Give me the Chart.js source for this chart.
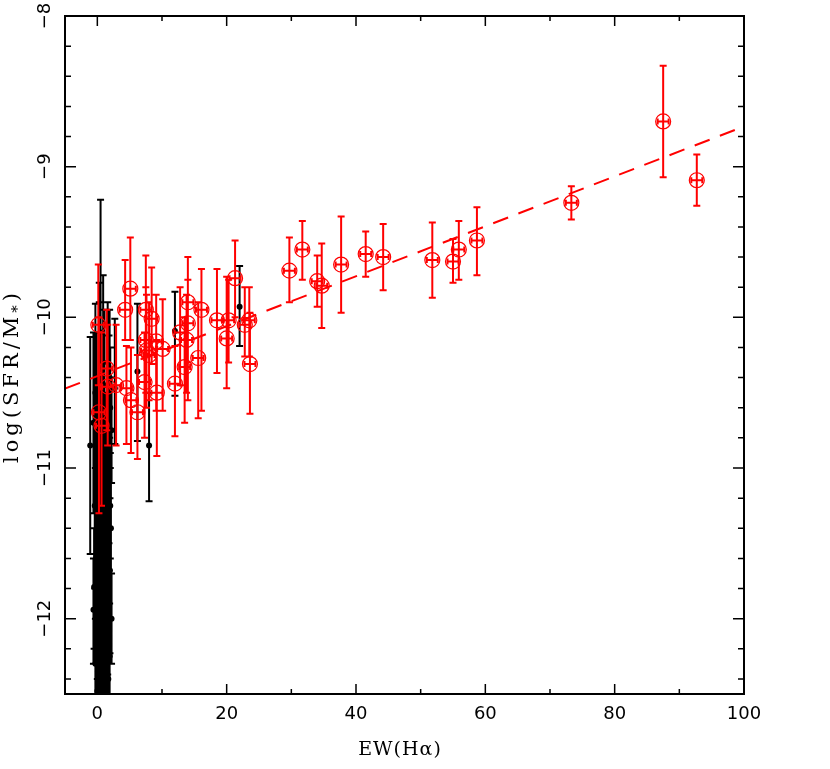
<!DOCTYPE html>
<html>
<head>
<meta charset="utf-8">
<style>
  html, body { margin: 0; padding: 0; background: #fff; }
  canvas { display: block; }
</style>
<script src="https://cdn.jsdelivr.net/npm/chart.js@4.4.1/dist/chart.umd.min.js"></script>
</head>
<body>
<canvas id="chart" width="830" height="769"></canvas>
<script>
// red circles: x, y and the ends of the y error bar
const redX = [0.15, 0.25, 0.65, 1.45, 1.6, 2.9, 4.3, 4.5, 5.1, 5.2,
              6.2, 7.3, 7.5, 7.5, 7.6, 8.0, 8.4, 9.1, 9.2, 10.1,
              12.0, 12.8, 13.5, 13.8, 14.0, 14.0, 15.6, 16.1, 18.5, 20.0,
              20.3, 21.3, 22.8, 23.5, 23.6, 29.7, 31.7, 34.0, 34.7, 37.7,
              41.5, 44.2, 51.8, 55.0, 55.9, 58.7, 73.3, 87.5, 92.7];
const redY = [-10.05, -10.63, -10.72, -10.34, -10.46, -10.45, -9.95, -10.47, -9.81, -10.55,
              -10.63, -10.43, -9.95, -10.15, -10.22, -10.25, -10.01, -10.16, -10.50, -10.21,
              -10.44, -10.10, -10.33, -10.15, -9.90, -10.04, -10.27, -9.95, -10.02, -10.14,
              -10.02, -9.74, -10.05, -10.02, -10.31, -9.69, -9.55, -9.76, -9.79, -9.65,
              -9.58, -9.60, -9.62, -9.63, -9.55, -9.49, -9.24, -8.70, -9.09];
const redLo = [-10.45, -11.30, -11.25, -10.75, -10.85, -10.85, -10.15, -10.84, -10.15, -10.90,
               -10.94, -10.80, -10.24, -10.50, -10.60, -10.55, -10.31, -10.62, -10.92, -10.62,
               -10.79, -10.45, -10.70, -10.50, -10.30, -10.55, -10.67, -10.62, -10.37, -10.47,
               -10.30, -10.00, -10.26, -10.26, -10.64, -9.90, -9.75, -9.93, -10.07, -9.97,
               -9.73, -9.82, -9.87, -9.77, -9.75, -9.72, -9.35, -9.07, -9.26];
const redHi = [-9.65, -10.00, -10.10, -9.95, -10.05, -10.05, -9.62, -10.19, -9.47, -10.20,
               -10.25, -10.10, -9.59, -9.80, -9.85, -9.90, -9.67, -9.85, -10.15, -9.88,
               -10.19, -9.80, -10.00, -9.85, -9.60, -9.75, -9.90, -9.68, -9.68, -9.73,
               -9.75, -9.49, -9.80, -9.80, -9.97, -9.47, -9.36, -9.59, -9.51, -9.33,
               -9.43, -9.38, -9.37, -9.48, -9.36, -9.27, -9.13, -8.33, -8.92];
const redXErr = 0.85;

// black dots
const blackX = [-1.1, 0.5, 0.9, 0.3, -0.3, 1.8, 1.9, 2.7, 6.2, 8.0,
                12.0, 22.0, 0.1, 0.4, 0.7, 1.0, 1.3, -0.4, 0.2, 0.6,
                0.9, 1.5, 2.1, -0.2, 0.3, 0.8, 1.2, 1.95, -0.5, 0.0,
                0.5, -0.6, 1.0, 1.6, 0.2, 0.7, -0.1, 0.4, 1.3, -0.3,
                0.1, 0.6, 0.9, 0.0, 0.3, 1.1, -0.1, 1.6, 0.8, -0.6,
                2.2, 1.4, 1.7, 2.0, 1.2, 1.8, 2.2, 1.4, 1.7, 1.1,
                0.5, 0.0, -0.2, 0.2, 1.5, 1.9, 2.0];
const blackY = [-10.85, -10.10, -10.60, -10.70, -10.50, -10.55, -10.40, -10.47, -10.36, -10.85,
                -10.09, -9.93, -10.95, -11.05, -11.10, -11.20, -11.00, -11.25, -11.35, -11.45,
                -11.50, -11.30, -11.40, -11.60, -11.65, -11.70, -11.75, -11.68, -11.79, -11.85,
                -11.90, -11.94, -12.00, -11.95, -12.05, -12.10, -12.15, -12.20, -12.20, -12.30,
                -12.35, -12.40, -12.45, -12.48, -10.40, -10.45, -10.60, -10.30, -10.85, -10.70,
                -10.75, -10.90, -11.10, -11.25, -11.55, -11.85, -12.00, -12.30, -12.40, -12.45,
                -11.20, -11.05, -10.90, -12.25, -12.10, -12.25, -10.60];
const blackLo = [-11.57, -10.95, -11.20, -11.30, -11.00, -10.95, -10.80, -10.84, -10.82, -11.22,
                 -10.52, -10.19, -11.50, -11.60, -11.70, -11.60, -11.40, -11.80, -11.90, -12.00,
                 -11.90, -11.80, -11.70, -12.10, -12.20, -12.10, -12.30, -12.23, -12.20, -12.40,
                 -12.30, -12.30, -12.40, -12.37, -12.60, -12.60, -12.60, -12.60, -12.60, -12.60,
                 -12.60, -12.60, -12.60, -12.60, -10.90, -11.00, -11.10, -10.80, -11.40, -11.30,
                 -11.10, -11.30, -11.50, -11.60, -11.95, -12.20, -12.30, -12.60, -12.60, -12.60,
                 -11.60, -11.50, -11.40, -12.60, -12.50, -12.60, -11.00];
const blackHi = [-10.13, -9.22, -9.72, -9.77, -9.91, -10.12, -9.95, -10.01, -9.91, -10.50,
                 -9.83, -9.66, -10.40, -10.50, -10.50, -10.80, -10.60, -10.70, -10.80, -10.90,
                 -11.10, -10.80, -11.10, -11.10, -11.10, -11.30, -11.20, -11.20, -11.40, -11.30,
                 -11.50, -11.60, -11.60, -11.50, -11.60, -11.70, -11.80, -11.80, -11.90, -12.00,
                 -12.00, -12.10, -12.20, -12.30, -9.90, -9.95, -10.10, -9.90, -10.30, -10.10,
                 -10.40, -10.50, -10.70, -10.90, -11.15, -11.50, -11.70, -11.95, -12.10, -12.15,
                 -10.80, -10.60, -10.40, -11.90, -11.70, -11.90, -10.20];

// dashed fit line, end points at the axis limits
const fitX = [-5, 100];
const fitY = [-10.473, -8.733];

// axis ticks
const xMajor = [0, 20, 40, 60, 80, 100];
const xMinor = [10, 30, 50, 70, 90];
const yMajor = [-8, -9, -10, -11, -12];
const yMinor = [-8.2, -8.4, -8.6, -8.8, -9.2, -9.4, -9.6, -9.8, -10.2, -10.4, -10.6, -10.8,
                -11.2, -11.4, -11.6, -11.8, -12.2, -12.4];

const RED = '#ff0000';

const redPts = redX.map((x, i) => ({x: x, y: redY[i], lo: redLo[i], hi: redHi[i], xe: redXErr}));
const blackPts = blackX.map((x, i) => ({x: x, y: blackY[i], lo: blackLo[i], hi: blackHi[i]}));
const fitPts = fitX.map((x, i) => ({x: x, y: fitY[i]}));

// error bars, drawn just before the points of their own dataset
const errorBars = {
  id: 'errorBars',
  beforeDatasetDraw(chart, args) {
    const ds = chart.data.datasets[args.index];
    if (!ds.errColor) return;
    const {ctx, chartArea: a, scales: {x, y}} = chart;
    const cap = 3.5;
    ctx.save();
    ctx.beginPath();
    ctx.rect(a.left, a.top, a.right - a.left, a.bottom - a.top);
    ctx.clip();
    ctx.strokeStyle = ds.errColor;
    ctx.lineWidth = ds.errWidth;
    ctx.beginPath();
    ds.data.forEach(p => {
      const px = x.getPixelForValue(p.x);
      const py = y.getPixelForValue(p.y);
      const top = y.getPixelForValue(p.hi);
      const bot = y.getPixelForValue(p.lo);
      ctx.moveTo(px, top); ctx.lineTo(px, bot);
      ctx.moveTo(px - cap, top); ctx.lineTo(px + cap, top);
      ctx.moveTo(px - cap, bot); ctx.lineTo(px + cap, bot);
      if (p.xe) {
        const l = x.getPixelForValue(p.x - p.xe);
        const r = x.getPixelForValue(p.x + p.xe);
        ctx.moveTo(l, py); ctx.lineTo(r, py);
        ctx.moveTo(l, py - 3); ctx.lineTo(l, py + 3);
        ctx.moveTo(r, py - 3); ctx.lineTo(r, py + 3);
      }
    });
    ctx.stroke();
    ctx.restore();
  }
};

// box frame with inward ticks on all four sides, labels and titles
const frame = {
  id: 'frame',
  afterDraw(chart) {
    const {ctx, chartArea: a, scales: {x, y}} = chart;
    ctx.save();
    ctx.strokeStyle = '#000';
    ctx.lineWidth = 2;
    ctx.strokeRect(a.left, a.top, a.right - a.left, a.bottom - a.top);

    ctx.lineWidth = 1.5;
    ctx.beginPath();
    const xt = (v, len) => {
      const px = x.getPixelForValue(v);
      ctx.moveTo(px, a.bottom); ctx.lineTo(px, a.bottom - len);
      ctx.moveTo(px, a.top); ctx.lineTo(px, a.top + len);
    };
    const yt = (v, len) => {
      const py = y.getPixelForValue(v);
      ctx.moveTo(a.left, py); ctx.lineTo(a.left + len, py);
      ctx.moveTo(a.right, py); ctx.lineTo(a.right - len, py);
    };
    xMajor.forEach(v => xt(v, 10));
    xMinor.forEach(v => xt(v, 5));
    yMajor.forEach(v => yt(v, 11));
    yMinor.forEach(v => yt(v, 6));
    ctx.stroke();

    ctx.fillStyle = '#000';
    ctx.font = '18px "DejaVu Sans"';
    ctx.textAlign = 'center';
    ctx.textBaseline = 'middle';
    xMajor.forEach(v => ctx.fillText(String(v), x.getPixelForValue(v), 714));
    yMajor.forEach(v => {
      ctx.save();
      ctx.translate(45, y.getPixelForValue(v));
      ctx.rotate(-Math.PI / 2);
      ctx.fillText(String(v).replace('-', '\u2212'), 0, 0);
      ctx.restore();
    });

    // x title
    ctx.font = '19px "DejaVu Serif"';
    ctx.letterSpacing = '1px';
    ctx.fillText('EW(H\u03b1)', 400, 750);

    // y title with subscript star
    ctx.save();
    ctx.translate(13, 376);
    ctx.rotate(-Math.PI / 2);
    ctx.textAlign = 'left';
    ctx.letterSpacing = '4px';
    const main = 'log(SFR/M';
    const sub = '*';
    const tail = ')';
    ctx.font = '15px "DejaVu Serif"';
    const wSub = ctx.measureText(sub).width;
    ctx.font = '21px "DejaVu Serif"';
    const wMain = ctx.measureText(main).width;
    const wTail = ctx.measureText(tail).width;
    let cx = -(wMain + wSub + wTail) / 2;
    ctx.fillText(main, cx, 0);
    cx += wMain;
    ctx.font = '15px "DejaVu Serif"';
    ctx.fillText(sub, cx, 5);
    cx += wSub;
    ctx.font = '21px "DejaVu Serif"';
    ctx.fillText(tail, cx, 0);
    ctx.restore();

    ctx.restore();
  }
};

new Chart(document.getElementById('chart'), {
  type: 'scatter',
  data: {
    datasets: [
      {
        type: 'line',
        data: fitPts,
        borderColor: RED,
        borderWidth: 2,
        borderDash: [16, 11],
        pointRadius: 0,
        fill: false,
        clip: 0
      },
      {
        data: redPts,
        pointStyle: 'circle',
        pointRadius: 7.5,
        pointBorderWidth: 1.2,
        pointBackgroundColor: 'rgba(0,0,0,0)',
        pointBorderColor: RED,
        errColor: RED,
        errWidth: 2,
        clip: 0
      },
      {
        data: blackPts,
        pointStyle: 'circle',
        pointRadius: 3,
        pointBorderWidth: 0,
        pointBackgroundColor: '#000',
        pointBorderColor: '#000',
        errColor: '#000',
        errWidth: 2,
        clip: 0
      }
    ]
  },
  options: {
    responsive: false,
    animation: false,
    devicePixelRatio: 1,
    layout: {padding: {left: 65, right: 86, top: 16, bottom: 75}},
    scales: {
      x: {type: 'linear', min: -5, max: 100, display: false},
      y: {type: 'linear', min: -12.5, max: -8, display: false}
    },
    plugins: {legend: {display: false}, tooltip: {enabled: false}}
  },
  plugins: [errorBars, frame]
});
</script>
</body>
</html>
